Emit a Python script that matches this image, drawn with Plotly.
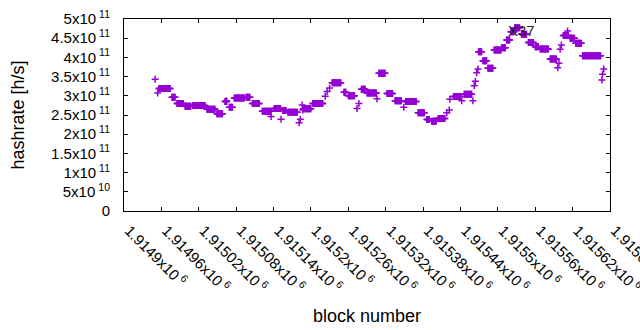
import plotly.graph_objects as go

# Plateaus of the hashrate estimate: first block, last block, hashrate [h/s]
run_start = [1914956, 1914977, 1914985, 1914998, 1915010, 1915033, 1915049, 1915062,
             1915069, 1915077, 1915096, 1915106, 1915122, 1915141, 1915155, 1915163,
             1915188, 1915203, 1915234, 1915253, 1915260, 1915281, 1915290, 1915309,
             1915322, 1915335, 1915352, 1915372, 1915386, 1915394, 1915404, 1915429,
             1915446, 1915469, 1915476, 1915484, 1915494, 1915506, 1915514, 1915521,
             1915527, 1915538, 1915549, 1915560, 1915568, 1915584, 1915605, 1915616,
             1915625, 1915636]
run_end = [1914974, 1914982, 1914995, 1915007, 1915030, 1915046, 1915058, 1915065,
           1915074, 1915093, 1915102, 1915117, 1915136, 1915151, 1915160, 1915178,
           1915200, 1915219, 1915248, 1915256, 1915270, 1915287, 1915305, 1915319,
           1915331, 1915345, 1915369, 1915382, 1915390, 1915401, 1915415, 1915440,
           1915458, 1915474, 1915482, 1915492, 1915505, 1915512, 1915519, 1915526,
           1915535, 1915546, 1915557, 1915565, 1915581, 1915594, 1915613, 1915623,
           1915634, 1915665]
run_value = [3.19e11, 2.96e11, 2.80e11, 2.73e11, 2.75e11, 2.65e11, 2.53e11, 2.85e11,
             2.70e11, 2.94e11, 2.96e11, 2.80e11, 2.60e11, 2.67e11, 2.62e11, 2.57e11,
             2.66e11, 2.80e11, 3.34e11, 3.09e11, 3.00e11, 3.17e11, 3.07e11, 3.59e11,
             3.06e11, 2.87e11, 2.85e11, 2.56e11, 2.38e11, 2.34e11, 2.41e11, 2.98e11,
             3.04e11, 4.15e11, 3.91e11, 3.72e11, 4.19e11, 4.25e11, 4.45e11, 4.67e11,
             4.77e11, 4.60e11, 4.39e11, 4.28e11, 4.22e11, 3.96e11, 4.57e11, 4.50e11,
             4.37e11, 4.04e11]

# Isolated points
single_block = [1914950, 1914954, 1915064, 1915136, 1915152, 1915181, 1915183, 1915186,
                1915187, 1915223, 1915226, 1915230, 1915274, 1915277, 1915306, 1915349,
                1915418, 1915422, 1915423, 1915442, 1915460, 1915462, 1915464, 1915466,
                1915468, 1915596, 1915598, 1915600, 1915602, 1915612, 1915667, 1915668,
                1915670]
single_value = [3.43e11, 3.07e11, 2.87e11, 2.46e11, 2.39e11, 2.30e11, 2.39e11, 2.76e11,
                2.63e11, 2.99e11, 3.11e11, 3.20e11, 2.67e11, 2.80e11, 2.92e11, 2.70e11,
                2.56e11, 2.63e11, 2.91e11, 2.87e11, 2.87e11, 3.26e11, 3.38e11, 3.60e11,
                3.70e11, 3.73e11, 3.85e11, 4.21e11, 4.32e11, 4.69e11, 3.41e11, 3.56e11,
                3.70e11]

x_tick_vals = [1914900, 1914960, 1915020, 1915080, 1915140, 1915200, 1915260,
               1915320, 1915380, 1915440, 1915500, 1915560, 1915620, 1915680]
x_tick_text = ["1.9149x10", "1.91496x10", "1.91502x10", "1.91508x10", "1.91514x10",
               "1.9152x10", "1.91526x10", "1.91532x10", "1.91538x10", "1.91544x10",
               "1.9155x10", "1.91556x10", "1.91562x10", "1.91568x10"]
y_tick_vals = [0, 0.5e11, 1e11, 1.5e11, 2e11, 2.5e11, 3e11, 3.5e11, 4e11, 4.5e11, 5e11]
y_tick_mant = ["0", "5x10", "1x10", "1.5x10", "2x10", "2.5x10", "3x10", "3.5x10",
               "4x10", "4.5x10", "5x10"]
y_tick_exp = ["", "10", "11", "11", "11", "11", "11", "11", "11", "11", "11"]

label_text = "X37"
label_block = 1915513
label_value = 4.69e11

# expand plateaus into one point per block
xs, ys = [], []
for s, e, v in zip(run_start, run_end, run_value):
    for b in range(s, e + 1):
        xs.append(b)
        ys.append(v)
xs += single_block
ys += single_value

y_text = [m if not p else f"{m}\u2009<sup>{p}</sup>" for m, p in zip(y_tick_mant, y_tick_exp)]
x_text = [f"{t}\u2009<sup>6</sup>" for t in x_tick_text]

purple = "#9400D3"
font = "Liberation Sans, Arial, sans-serif"

fig = go.Figure()
fig.add_trace(go.Scatter(
    x=xs, y=ys, mode="markers",
    marker=dict(symbol="cross-thin", size=5, line=dict(color=purple, width=1.5), color=purple),
    showlegend=False, hoverinfo="skip",
))

fig.add_annotation(x=label_block, y=label_value, text=label_text, showarrow=False,
                   xanchor="left", yanchor="middle",
                   font=dict(family=font, size=15, color="#222222"))

axis_common = dict(showline=True, linecolor="black", linewidth=1, mirror="ticks",
                   ticks="inside", ticklen=4, tickcolor="black", showgrid=False,
                   zeroline=False, automargin=False, ticklabeloverflow="allow")

fig.update_layout(
    width=640, height=330,
    margin=dict(l=124, r=30, t=19, b=119, autoexpand=False),
    paper_bgcolor="white", plot_bgcolor="white",
    font=dict(family=font, size=15, color="black"),
    xaxis=dict(range=[1914900, 1915680], tickvals=x_tick_vals, ticktext=x_text,
               tickangle=45, ticklabelstandoff=4, ticklabelshift=5,
               title=dict(text="block number", standoff=14),
               **axis_common),
    yaxis=dict(range=[0, 5e11], tickvals=y_tick_vals, ticktext=y_text,
               ticklabelstandoff=10, title=dict(text="hashrate [h/s]", standoff=21),
               **axis_common),
)

fig.write_html("out.html", config={"displayModeBar": False},
               post_script="document.body.style.margin='0';")
